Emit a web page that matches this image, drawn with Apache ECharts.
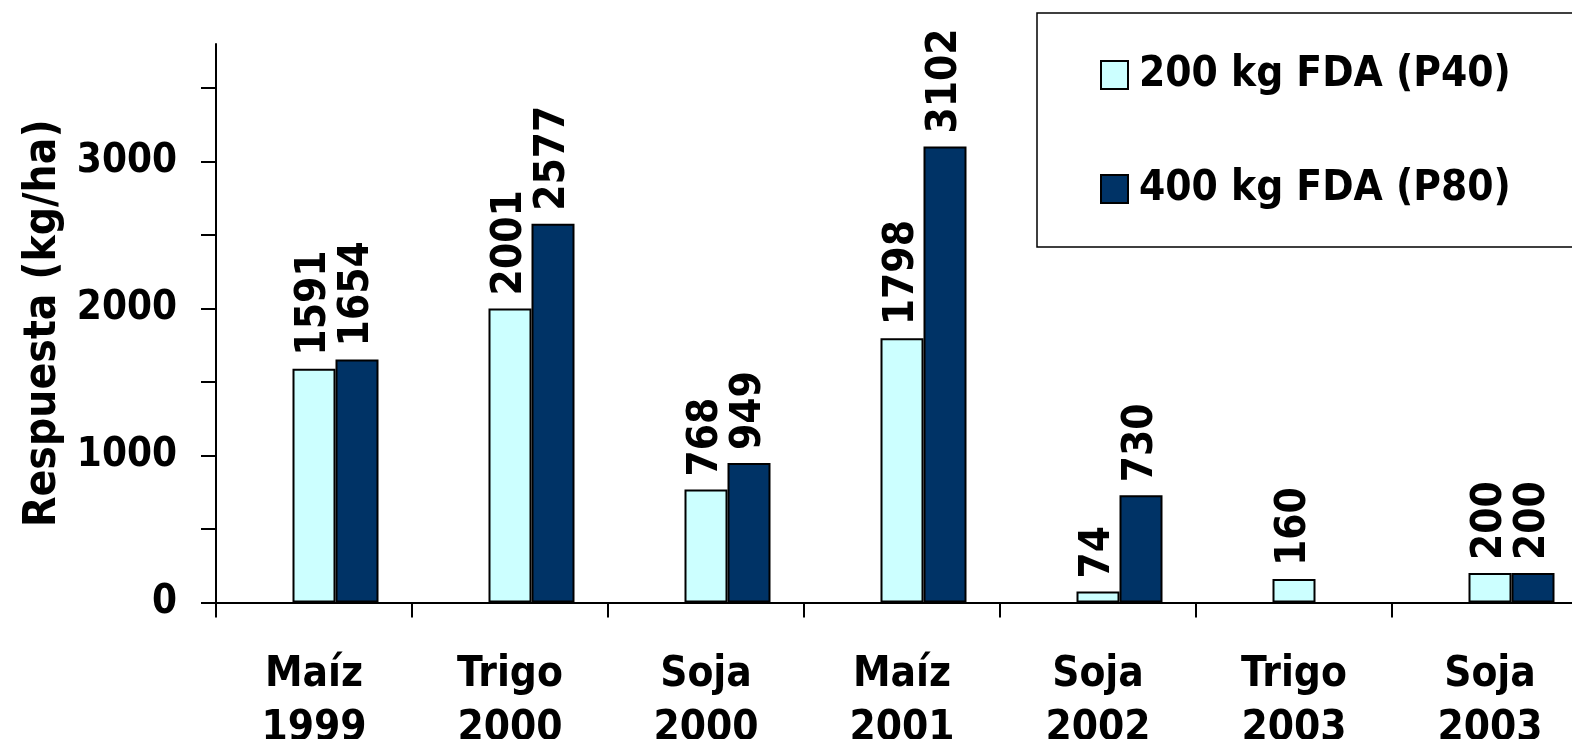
<!DOCTYPE html>
<html>
<head>
<meta charset="utf-8">
<script src="https://cdn.jsdelivr.net/npm/echarts@6/dist/echarts.min.js"></script>
<style>
  html, body { margin: 0; padding: 0; background: #fff; }
  #chart { width: 1572px; height: 739px; }
</style>
</head>
<body>
<div id="chart"></div>
<script>
// Cultivo y campaña de cada ensayo
const crops = ['Maíz', 'Trigo', 'Soja', 'Maíz', 'Soja', 'Trigo', 'Soja'];
const years = ['1999', '2000', '2000', '2001', '2002', '2003', '2003'];

// Respuesta (kg/ha) por dosis de fosfato diamónico
const seriesNames = ['200 kg FDA (P40)', '400 kg FDA (P80)'];
const dose200 = [1591, 2001, 768, 1798, 74, 160, 200];
const dose400 = [1654, 2577, 949, 3102, 730, null, 200];

// Escala del eje Y
const yMax = 3800;
const yTicks = [0, 500, 1000, 1500, 2000, 2500, 3000, 3500];
const yLabels = [0, 1000, 2000, 3000];

const categories = crops.map((c, i) => c + '\n' + years[i]);
const FONT = "'DejaVu Sans Condensed', 'DejaVu Sans', sans-serif";

const valueLabel = {
  show: true,
  position: 'top',
  rotate: 90,
  align: 'left',
  verticalAlign: 'middle',
  distance: 13,
  color: '#000',
  fontFamily: FONT,
  fontWeight: 'bold',
  fontSize: 42
};

const chart = echarts.init(document.getElementById('chart'), null, { renderer: 'canvas' });

chart.setOption({
  animation: false,
  backgroundColor: '#fff',
  textStyle: { fontFamily: FONT },
  grid: {
    left: 216, top: 44, width: 1372, height: 558.5,
    containLabel: false,
    outerBoundsMode: 'none'
  },
  legend: {
    data: seriesNames,
    orient: 'vertical',
    left: 1037,
    top: 13,
    padding: [38, 120, 34, 63],
    itemGap: 66,
    itemWidth: 27,
    itemHeight: 28,
    icon: 'rect',
    borderColor: '#000',
    borderWidth: 1.5,
    backgroundColor: '#fff',
    textStyle: {
      fontFamily: FONT,
      fontWeight: 'bold',
      fontSize: 42,
      lineHeight: 48,
      color: '#000',
      padding: [0, 0, 0, 6]
    }
  },
  xAxis: {
    type: 'category',
    data: categories,
    axisLine: { show: true, lineStyle: { color: '#000', width: 2 } },
    axisTick: { show: true, alignWithLabel: false, length: 15, lineStyle: { color: '#000', width: 2 } },
    axisLabel: {
      interval: 0,
      margin: 46,
      color: '#000',
      fontFamily: FONT,
      fontWeight: 'bold',
      fontSize: 42,
      lineHeight: 54
    },
    splitLine: { show: false }
  },
  yAxis: {
    type: 'value',
    min: 0,
    max: yMax,
    interval: 500,
    name: 'Respuesta (kg/ha)',
    nameLocation: 'middle',
    nameGap: 146,
    nameTextStyle: {
      color: '#000',
      fontFamily: FONT,
      fontWeight: 'bold',
      fontSize: 44
    },
    axisLine: { show: true, lineStyle: { color: '#000', width: 2 } },
    axisTick: { show: true, length: 15, lineStyle: { color: '#000', width: 2 }, customValues: yTicks },
    axisLabel: {
      customValues: yLabels,
      formatter: v => String(v),
      margin: 39,
      color: '#000',
      fontFamily: FONT,
      fontWeight: 'bold',
      fontSize: 40
    },
    splitLine: { show: false }
  },
  series: [
    {
      // hueco vacío a la izquierda de cada par de barras
      name: 'hueco',
      type: 'bar',
      barWidth: 43,
      barGap: '0%',
      data: dose200.map(() => null),
      silent: true
    },
    {
      name: seriesNames[0],
      type: 'bar',
      barWidth: 43,
      barGap: '0%',
      data: dose200,
      itemStyle: { color: '#CCFFFF', borderColor: '#000', borderWidth: 2 },
      label: valueLabel
    },
    {
      name: seriesNames[1],
      type: 'bar',
      barWidth: 43,
      barGap: '0%',
      data: dose400,
      itemStyle: { color: '#003366', borderColor: '#000', borderWidth: 2 },
      label: valueLabel
    }
  ]
});
</script>
</body>
</html>
